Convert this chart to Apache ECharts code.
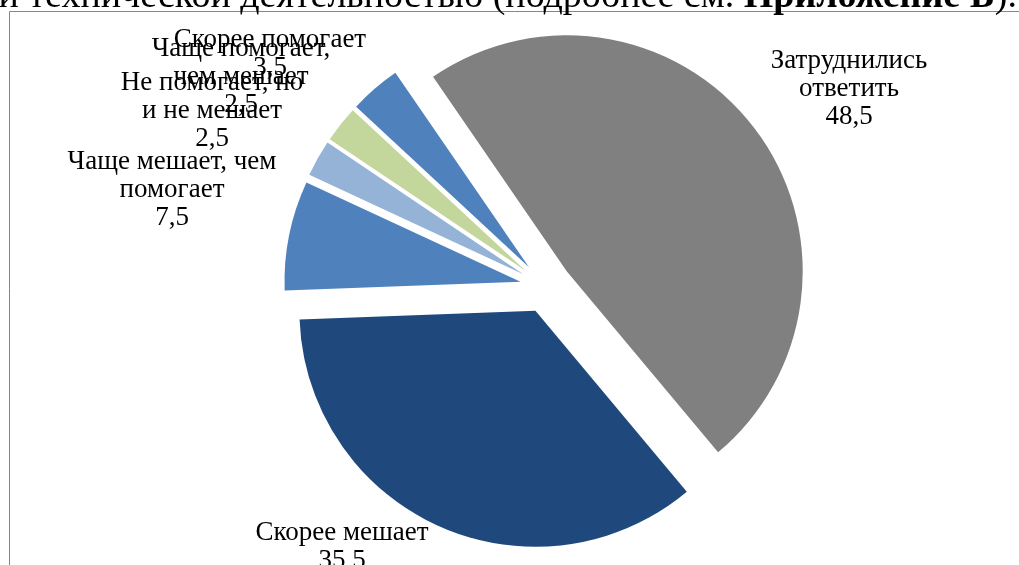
<!DOCTYPE html>
<html>
<head>
<meta charset="utf-8">
<script src="https://cdn.jsdelivr.net/npm/echarts@6/dist/echarts.min.js"></script>
<style>
html,body{margin:0;padding:0;background:#fff;}
#chart{width:1019px;height:565px;}
</style>
</head>
<body>
<div id="chart"></div>
<script>
// Data
var categories = [
  'Затруднились\nответить',
  'Скорее мешает',
  'Чаще мешает, чем\nпомогает',
  'Не помогает, но\nи не мешает',
  'Чаще помогает,\nчем мешает',
  'Скорее помогает'
];
var values = [48.5, 35.5, 7.5, 2.5, 2.5, 3.5];
var colors = ['#808080', '#1F497D', '#4F81BD', '#95B3D7', '#C3D69B', '#4F81BD'];

// label anchor points (layout only)
var labelAnchors = [[849, 89], [342, 547], [172, 190], [212, 111], [241, 77], [270, 54]];

var chart = echarts.init(document.getElementById('chart'), null, {renderer: 'canvas'});
var data = categories.map(function (c, i) {
  return {name: c, value: values[i], selected: true, itemStyle: {color: colors[i]}};
});

var labelGraphics = categories.map(function (c, i) {
  return {
    type: 'text',
    x: labelAnchors[i][0],
    y: labelAnchors[i][1],
    silent: true,
    z: 100,
    style: {
      text: c + '\n' + String(values[i]).replace('.', ','),
      fontFamily: 'Liberation Serif',
      fontSize: 27,
      lineHeight: 28,
      fill: '#000',
      align: 'center',
      verticalAlign: 'middle'
    }
  };
});

chart.setOption({
  animation: false,
  backgroundColor: '#fff',
  graphic: [
    {
      type: 'rect',
      shape: {x: 9.5, y: 11.5, width: 1200, height: 700},
      style: {fill: 'none', stroke: '#868686', lineWidth: 1},
      silent: true
    },
    {
      type: 'text',
      x: 1017,
      y: 16,
      style: {
        text: '{r|и технической деятельностью (подробнее см. }{b|Приложение Б}{r|).}',
        align: 'right',
        verticalAlign: 'bottom',
        rich: {
          r: {fontFamily: 'Liberation Serif', fontSize: 38, lineHeight: 38, fill: '#000'},
          b: {fontFamily: 'Liberation Serif', fontSize: 38, lineHeight: 38, fontWeight: 'bold', fill: '#000'}
        }
      },
      silent: true
    }
  ].concat(labelGraphics),
  series: [{
    type: 'pie',
    center: [546, 287],
    radius: 236,
    startAngle: 124.5,
    clockwise: true,
    selectedMode: 'multiple',
    selectedOffset: 26,
    emphasis: {disabled: true},
    itemStyle: {borderWidth: 0},
    label: {show: false},
    labelLine: {show: false},
    data: data
  }]
});
</script>
</body>
</html>
